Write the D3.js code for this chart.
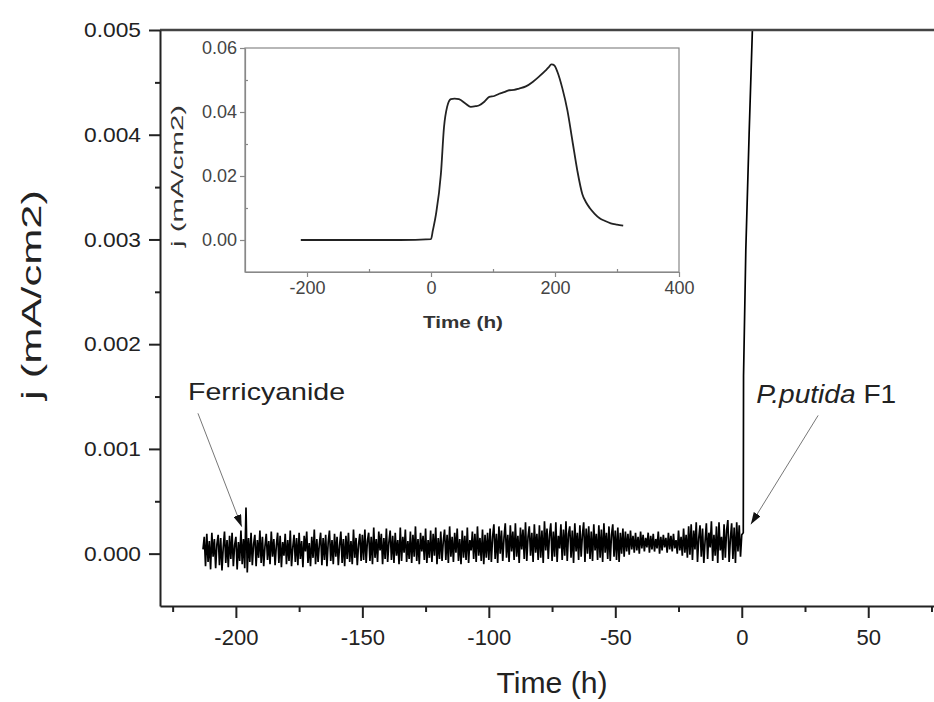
<!DOCTYPE html>
<html>
<head>
<meta charset="utf-8">
<script src="https://cdn.jsdelivr.net/npm/d3@7"></script>
<style>
    body { margin: 0; background: #fff; }
    svg { font-family: "Liberation Sans", Arial, sans-serif; }
</style>
</head>
<body>
<svg id="chart" width="934" height="702"></svg>
<script>
    // main trace: one sample every half hour from -213 h, values in 1e-4 mA/cm2
    const noiseStart = -213
    const noiseStep = 0.5
    const noiseE4 = [
        0.4, 1.6, -1.2, 1.9, -0.8, 1.2, -1.5, 2.0, -0.3, 1.4, -1.4, 0.9, 1.8, -1.1, 1.5, -1.6, 0.6, 2.1, -0.9, 1.3,
        -1.3, 1.7, -0.5, 2.0, -1.2, 0.8, 1.6, -1.5, 1.1, -0.7, 2.2, -1.0, 1.4, -1.4,
        4.4, -1.8,
        1.5, -0.8, 2.0, -1.1, 0.9, 1.8, -1.2, 1.3, -0.4, 2.2, -0.9, 1.6, -1.2, 0.7, 1.9, -0.6, 1.2, -1.0, 2.1, -0.3,
        1.4, -1.1, 0.8, 2.0, -0.9, 1.7, -1.3, 1.1, -0.2, 1.9, -1.0, 1.3, -0.7, 2.2, -1.2, 0.6, 1.8, -0.8, 1.5, -1.1,
        2.0, -0.5, 1.2, -1.3, 1.7, 0.2, 2.1, -0.9, 1.0, -1.2, 1.6, -0.4, 2.3, -1.0, 1.4, -0.8, 0.9, 2.0, -1.1, 1.5,
        -0.6, 1.8, -1.2, 1.1, 2.2, -0.7, 1.3, -1.0, 1.9, -0.3, 1.6, -1.1, 0.8, 2.1, -0.9, 1.4, -1.2, 1.7, -0.5, 2.0,
        -0.8, 1.2, -1.0, 2.3, -0.4, 1.5, -1.1, 0.9, 1.9, -0.7,
        1.8, -0.6, 2.3, -0.9, 1.2, 2.0, -0.7, 1.6, -1.0, 2.5, -0.4, 1.4, -0.8, 2.1, 0.3, 1.9, -1.0, 1.5, -0.5, 2.4,
        -0.8, 1.1, 2.2, -0.6, 1.7, -0.9, 2.0, -0.2, 1.3, -1.0, 2.5, -0.7, 1.6, 0.1, 2.3, -0.8, 1.2, -0.5, 2.1, -0.9,
        1.8, -0.3, 2.6, -0.7, 1.4, -1.0, 2.0, 0.2, 1.7, -0.6, 2.4, -0.9, 1.3, -0.4, 2.2, -0.8, 1.9, -0.2, 2.5, -1.0,
        1.5, -0.5, 2.1, -0.7, 1.2, 2.3, -0.6, 1.8, -0.9, 2.6, -0.3, 1.6, -0.8, 2.0, 0.1, 2.4, -0.7, 1.4, -1.0, 2.2,
        -0.4, 1.7, -0.6, 2.5, -0.9, 1.3, 0.3, 2.1, -0.5, 1.9, -0.8, 2.6, -0.2, 1.5, -0.7, 2.3, -1.0, 1.8, -0.4, 2.0,
        -0.6, 2.4, -0.8, 1.6, 2.8, -0.5, 1.9, -0.9, 2.6, 0.0, 2.2, -0.7, 1.5, 2.9, -0.4, 1.8, -0.8, 2.7, 0.2, 2.1,
        -0.6, 2.9, -0.3, 1.7, -0.9, 2.5, 0.4, 2.3, -0.5, 3.0, -0.7, 1.6, 2.6, -0.2, 2.0, -0.8, 2.8, 0.1, 1.9, -0.6,
        2.7, -0.4, 2.2, -0.9, 3.1, 0.3, 2.4, -0.5, 1.8, 2.9, -0.7, 2.1, -0.3, 3.0, -0.8, 1.7, 0.5, 2.8, -0.6, 2.3,
        -0.2, 3.1, -0.7, 1.9, 2.6, -0.4, 2.2, -0.9, 2.9, 0.2, 2.0, -0.6, 2.7, -0.3, 1.8, 3.0, -0.8, 2.4, 0.0, 2.6,
        -0.5, 2.1, -0.7, 2.8, 0.3, 1.9, -0.6, 2.7, -0.4, 2.3, -0.8, 2.9, 0.1, 2.0, -0.5, 2.6, -0.7, 1.8, 2.8, -0.3,
        2.2, -0.6, 2.5, -0.8, 2.0,
        0.0, 2.4, -0.3, 2.1, 0.2, 1.9, -0.1, 2.2, 0.4, 1.7, 0.1, 2.0, 0.3, 1.6, 0.0, 2.1, 0.5, 1.8, 0.2, 1.5,
        0.6, 2.0, 0.1, 1.7, 0.4, 1.9, 0.2, 1.4, 0.5, 2.1, 0.0, 1.6, 0.3, 1.8, 0.6, 1.5, 0.1, 2.0, 0.4, 1.7,
        0.2, 1.9, 0.5, 1.3, 0.0, 2.2, 0.3, 1.6, -0.2, 2.4, 0.1, 1.8, -0.4, 2.6, -0.1,
        2.8, -0.6, 2.2, 0.4, 3.0, -0.8, 1.5, 2.7, -0.3, 2.4, -0.9, 1.2, 2.9, -0.5, 2.0, 0.6, 3.1, -0.7, 1.8, -0.2,
        2.6, -0.9, 3.0, 0.3, 1.6, -0.6, 2.8, -0.4, 2.2, 3.2, -0.8, 1.4, 2.9, -0.5, 2.5, -0.9, 3.0, 0.2, 2.7, -0.3, 1.8
    ]

    // steep rise after P. putida was added (h, mA/cm2)
    const riseTime = [0.6, 0.7, 1.6, 2.9, 4.2, 5.5]
    const riseJ = [0.0002, 0.0017, 0.0029, 0.0040, 0.0050, 0.0058]

    // inset: whole run
    const insetTime = [-210, -150, -100, -50, 0, 3, 8, 16, 21, 26, 32, 38, 45, 56, 64, 72, 78, 86, 94, 102,
        110, 118, 126, 134, 142, 153, 164, 175, 185, 190, 194, 197, 200, 204, 212, 220, 228, 236, 244, 250,
        256, 264, 272, 280, 290, 300, 310]
    const insetJ = [0, 0, 0, 0, 0.0003, 0.003, 0.008, 0.0207, 0.0353, 0.0416, 0.0440, 0.0442, 0.0440, 0.0426, 0.0416, 0.0418, 0.0421, 0.0432, 0.0447, 0.0450,
        0.0457, 0.0462, 0.0468, 0.0469, 0.0473, 0.0480, 0.0494, 0.0512, 0.0530, 0.0540, 0.0549, 0.0548, 0.0543, 0.0525, 0.0473, 0.0405, 0.0311, 0.0217, 0.0144, 0.0118,
        0.0100, 0.0082, 0.0068, 0.0060, 0.0052, 0.0048, 0.0045]

    // ticks
    const mainXTicks = [-200, -150, -100, -50, 0, 50]
    const mainXMinor = [-225, -175, -125, -75, -25, 25, 75]
    const mainYTicks = [0, 0.001, 0.002, 0.003, 0.004, 0.005]
    const mainYMinor = [0.0005, 0.0015, 0.0025, 0.0035, 0.0045]
    const insetXTicks = [-200, 0, 200, 400]
    const insetXMinor = [-100, 100, 300]
    const insetYTicks = [0, 0.02, 0.04, 0.06]
    const insetYMinor = [0.01, 0.03, 0.05]

    let svg = d3.select("#chart")

    // main scales
    let x = d3.scaleLinear().domain([-230, 76]).range([160, 934])
    let y = d3.scaleLinear().domain([-0.0005, 0.005]).range([606, 30])

    svg.append("defs").append("clipPath").attr("id", "plotClip")
        .append("rect").attr("x", 160).attr("y", 30).attr("width", 774).attr("height", 576)

    let marker = svg.select("defs").append("marker")
        .attr("id", "head")
        .attr("markerUnits", "userSpaceOnUse")
        .attr("markerWidth", 12).attr("markerHeight", 8)
        .attr("refX", 12).attr("refY", 4)
        .attr("orient", "auto")
    marker.append("path").attr("d", "M0,0 L12,4 L0,8 Z").attr("fill", "#111")

    // main trace
    let mainPts = noiseE4.map((v, i) => [noiseStart + i * noiseStep, v * 1e-4])
    riseTime.forEach((t, i) => mainPts.push([t, riseJ[i]]))

    svg.append("path")
        .datum(mainPts)
        .attr("clip-path", "url(#plotClip)")
        .attr("fill", "none")
        .attr("stroke", "#000")
        .attr("stroke-width", 1.7)
        .attr("d", d3.line().x(d => x(d[0])).y(d => y(d[1])))

    // top frame line
    svg.append("line")
        .attr("x1", x.range()[0]).attr("x2", x.range()[1])
        .attr("y1", y(0.005)).attr("y2", y(0.005))
        .attr("stroke", "#444").attr("stroke-width", 2.5)

    // plain hyphen for negatives, like the original
    let plain = d => String(d)

    // main axes
    let xAxis = svg.append("g").attr("transform", "translate(0," + y.range()[0] + ")")
        .call(d3.axisBottom(x).tickValues(mainXTicks).tickSize(12).tickPadding(11).tickFormat(plain).tickSizeOuter(0))
    svg.append("g").attr("transform", "translate(0," + y.range()[0] + ")")
        .call(d3.axisBottom(x).tickValues(mainXMinor).tickSize(6).tickFormat("").tickSizeOuter(0))
        .select(".domain").remove()
    let yAxis = svg.append("g").attr("transform", "translate(" + x.range()[0] + ",0)")
        .call(d3.axisLeft(y).tickValues(mainYTicks).tickSize(11).tickPadding(8).tickFormat(d3.format(".3f")).tickSizeOuter(0))
    svg.append("g").attr("transform", "translate(" + x.range()[0] + ",0)")
        .call(d3.axisLeft(y).tickValues(mainYMinor).tickSize(5).tickFormat("").tickSizeOuter(0))
        .select(".domain").remove()

    svg.selectAll(".tick line, .domain").attr("stroke", "#222").attr("stroke-width", 2)
    xAxis.selectAll("text").attr("font-size", 22).attr("fill", "#222").attr("font-family", null)
    yAxis.selectAll("text").attr("font-size", 21).attr("fill", "#222").attr("font-family", null)
        .attr("textLength", 57).attr("lengthAdjust", "spacingAndGlyphs")

    // main axis titles
    svg.append("text")
        .attr("transform", "translate(41,295) rotate(-90)")
        .attr("text-anchor", "middle")
        .attr("font-size", 27)
        .attr("textLength", 210).attr("lengthAdjust", "spacingAndGlyphs")
        .attr("fill", "#222")
        .text("j (mA/cm2)")
    svg.append("text")
        .attr("x", 552).attr("y", 693)
        .attr("text-anchor", "middle")
        .attr("font-size", 29)
        .attr("textLength", 111).attr("lengthAdjust", "spacingAndGlyphs")
        .attr("fill", "#222")
        .text("Time (h)")

    // annotations
    svg.append("text")
        .attr("x", x(-218.9)).attr("y", y(0.001467))
        .attr("font-size", 24)
        .attr("textLength", 157).attr("lengthAdjust", "spacingAndGlyphs")
        .attr("fill", "#222")
        .text("Ferricyanide")
    svg.append("line")
        .attr("x1", x(-215)).attr("y1", y(0.00134))
        .attr("x2", x(-197.7)).attr("y2", y(0.000257))
        .attr("stroke", "#777").attr("stroke-width", 1)
        .attr("marker-end", "url(#head)")

    let pp = svg.append("text")
        .attr("x", x(5.7)).attr("y", y(0.001438))
        .attr("font-size", 25)
        .attr("textLength", 140).attr("lengthAdjust", "spacingAndGlyphs")
        .attr("fill", "#222")
    pp.append("tspan").attr("font-style", "italic").text("P.putida")
    pp.append("tspan").text(" F1")
    svg.append("line")
        .attr("x1", x(30.2)).attr("y1", y(0.00132))
        .attr("x2", x(3.6)).attr("y2", y(0.00028))
        .attr("stroke", "#777").attr("stroke-width", 1)
        .attr("marker-end", "url(#head)")

    // inset
    let ix = d3.scaleLinear().domain([-300, 400]).range([245, 679])
    let iy = d3.scaleLinear().domain([-0.01, 0.06]).range([272, 48])
    let inset = svg.append("g")

    inset.append("rect")
        .attr("x", 245).attr("y", 48).attr("width", 434).attr("height", 224)
        .attr("fill", "#fff").attr("stroke", "#888").attr("stroke-width", 1.2)

    let ixAxis = inset.append("g").attr("transform", "translate(0," + iy.range()[0] + ")")
        .call(d3.axisBottom(ix).tickValues(insetXTicks).tickSize(5).tickPadding(4).tickFormat(plain).tickSizeOuter(0))
    inset.append("g").attr("transform", "translate(0," + iy.range()[0] + ")")
        .call(d3.axisBottom(ix).tickValues(insetXMinor).tickSize(-3).tickFormat("").tickSizeOuter(0))
        .select(".domain").remove()
    let iyAxis = inset.append("g").attr("transform", "translate(" + ix.range()[0] + ",0)")
        .call(d3.axisLeft(iy).tickValues(insetYTicks).tickSize(5).tickPadding(3).tickFormat(d3.format(".2f")).tickSizeOuter(0))
    inset.append("g").attr("transform", "translate(" + ix.range()[0] + ",0)")
        .call(d3.axisLeft(iy).tickValues(insetYMinor).tickSize(-3).tickFormat("").tickSizeOuter(0))
        .select(".domain").remove()

    inset.selectAll(".tick line, .domain").attr("stroke", "#888").attr("stroke-width", 1.2)
    inset.selectAll(".tick text").attr("font-size", 18).attr("fill", "#444").attr("font-family", null)

    inset.append("path")
        .datum(insetTime.map((t, i) => [t, insetJ[i]]))
        .attr("fill", "none")
        .attr("stroke", "#222")
        .attr("stroke-width", 1.8)
        .attr("d", d3.line().x(d => ix(d[0])).y(d => iy(d[1])).curve(d3.curveMonotoneX))

    inset.append("text")
        .attr("transform", "translate(183,176) rotate(-90)")
        .attr("text-anchor", "middle")
        .attr("font-size", 16)
        .attr("textLength", 142).attr("lengthAdjust", "spacingAndGlyphs")
        .attr("fill", "#333")
        .text("j (mA/cm2)")
    inset.append("text")
        .attr("x", 463).attr("y", 328)
        .attr("text-anchor", "middle")
        .attr("font-size", 17)
        .attr("font-weight", "bold")
        .attr("textLength", 80).attr("lengthAdjust", "spacingAndGlyphs")
        .attr("fill", "#333")
        .text("Time (h)")
</script>
</body>
</html>
